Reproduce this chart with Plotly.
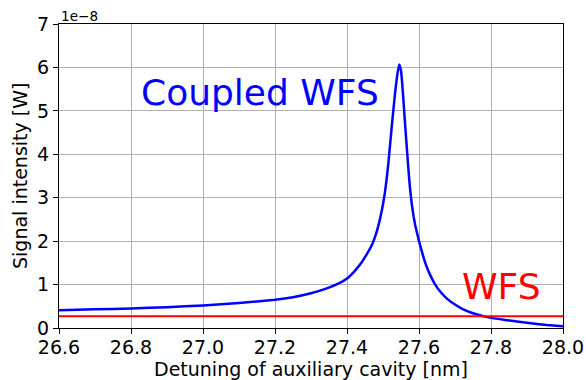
import plotly.graph_objects as go

# Detuning of auxiliary cavity [nm]
detuning_nm = [26.60, 26.70, 26.80, 26.90, 27.00, 27.10, 27.20, 27.25, 27.30, 27.34,
               27.38, 27.40, 27.42, 27.44, 27.45, 27.46, 27.47, 27.48, 27.49, 27.50,
               27.505, 27.51, 27.515, 27.52, 27.525, 27.53, 27.535, 27.54, 27.545, 27.55,
               27.555, 27.56, 27.565, 27.57, 27.575, 27.58, 27.585, 27.59, 27.60, 27.61,
               27.62, 27.63, 27.645, 27.66, 27.68, 27.70, 27.72, 27.75, 27.79, 27.844,
               27.90, 27.955, 28.00]

# Coupled WFS signal, in units of 1e-8 W
coupled_wfs = [0.41, 0.43, 0.45, 0.48, 0.52, 0.575, 0.65, 0.71, 0.80, 0.90,
               1.04, 1.14, 1.30, 1.50, 1.63, 1.77, 1.93, 2.15, 2.45, 2.85,
               3.10, 3.42, 3.80, 4.25, 4.70, 5.12, 5.52, 5.85, 6.07, 5.93,
               5.45, 4.85, 4.28, 3.72, 3.22, 2.85, 2.57, 2.35, 2.00, 1.70,
               1.44, 1.24, 1.00, 0.83, 0.66, 0.54, 0.44, 0.34, 0.25, 0.18,
               0.12, 0.07, 0.04]

# Plain WFS signal, in units of 1e-8 W (flat)
wfs_x = [26.60, 27.00, 27.40, 27.80, 28.00]
wfs = [0.27, 0.27, 0.27, 0.27, 0.27]

x_ticks = [26.6, 26.8, 27.0, 27.2, 27.4, 27.6, 27.8, 28.0]
y_ticks = [0, 1, 2, 3, 4, 5, 6, 7]

FONT = "DejaVu Sans"

fig = go.Figure()
fig.add_trace(go.Scatter(x=detuning_nm, y=coupled_wfs, mode="lines",
                         line=dict(color="#0000ff", width=2.5, shape="spline", smoothing=0.3),
                         name="Coupled WFS", showlegend=False))
fig.add_trace(go.Scatter(x=wfs_x, y=wfs, mode="lines",
                         line=dict(color="#ff0000", width=2.2),
                         name="WFS", showlegend=False))

axis_common = dict(showgrid=True, gridcolor="#b0b0b0", gridwidth=1.1,
                   showline=True, linecolor="black", linewidth=1.2, mirror=True,
                   ticks="outside", ticklen=5, tickwidth=1.1, tickcolor="black",
                   zeroline=False, automargin=False,
                   tickfont=dict(family=FONT, size=19, color="black"))

fig.update_xaxes(range=[26.6, 28.0], tickvals=x_ticks, ticklabelstandoff=-3,
                 ticktext=[f"{v:.1f}" for v in x_ticks], **axis_common)
fig.update_yaxes(range=[0, 7], tickvals=y_ticks,
                 ticktext=[str(v) for v in y_ticks], **axis_common)

# axis titles (placed explicitly)
fig.add_annotation(text="Detuning of auxiliary cavity [nm]", xref="paper", yref="paper",
                   x=0.5, y=(328 - 357) / 304, xanchor="center", yanchor="top",
                   borderpad=0, showarrow=False,
                   font=dict(family=FONT, size=19, color="black"))
fig.add_annotation(text="Signal intensity [W]", xref="paper", yref="paper",
                   x=(20 - 59) / 504, y=0.5, xanchor="center", yanchor="middle",
                   textangle=-90, showarrow=False,
                   font=dict(family=FONT, size=19, color="black"))

fig.add_annotation(text="1e\u22128", xref="paper", yref="paper", x=0, y=1,
                   xanchor="left", yanchor="bottom", showarrow=False,
                   font=dict(family=FONT, size=13.6, color="black"), yshift=-2)
fig.add_annotation(text="Coupled WFS", x=26.823, y=5.43, xanchor="left", yanchor="middle",
                   showarrow=False, font=dict(family=FONT, size=36, color="#0000ff"))
fig.add_annotation(text="WFS", x=27.714, y=0.95, xanchor="left", yanchor="middle",
                   showarrow=False, font=dict(family=FONT, size=36, color="#ff0000"))

fig.update_layout(width=586, height=380, margin=dict(l=59, r=23, t=24, b=52),
                  paper_bgcolor="white", plot_bgcolor="white",
                  font=dict(family=FONT, color="black"))

fig.write_html("out.html")
